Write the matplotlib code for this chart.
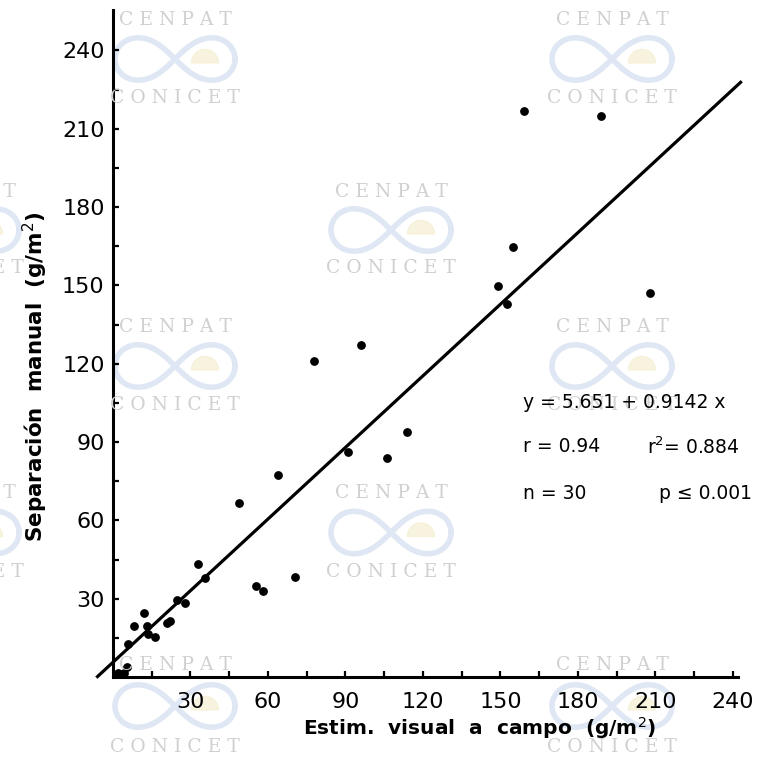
import numpy as np
import matplotlib
matplotlib.use("Agg")
import matplotlib.pyplot as plt
from matplotlib.lines import Line2D
from matplotlib.patches import Wedge

# ---------------- data ----------------
visual_est = [2.1, 4.4, 5.3, 5.9, 8.3, 12.1, 13.1, 13.6, 16.3, 20.8, 22.1, 24.7, 27.9,
              33.0, 35.7, 48.8, 55.4, 58.0, 63.8, 70.3, 77.9, 91.0, 96.1, 106.2, 114.0,
              149.2, 152.7, 154.7, 159.3, 189.0, 208.0]
manual_sep = [1.4, 1.4, 4.0, 12.6, 19.5, 24.6, 19.5, 16.5, 15.2, 20.5, 21.6, 29.5, 28.5,
              43.3, 38.0, 66.7, 35.0, 33.0, 77.4, 38.2, 121.0, 86.0, 127.0, 84.0, 94.0,
              149.6, 142.8, 164.6, 217.0, 215.0, 147.0]
intercept = 5.651
slope = 0.9142
line_x = [-6, 243]
tick_vals = [30, 60, 90, 120, 150, 180, 210, 240]
minor_vals = [15, 45, 75, 105, 135, 165, 195, 225]

W = 757.0
def fx(px):
    return px / W
def fy(py):
    return 1 - py / W

fig = plt.figure(figsize=(7.57, 7.57), dpi=100)
fig.patch.set_facecolor("white")

# ---------------- watermark ----------------
wm_color = "#d0d0d0"
blue = "#d3e0ef"
def watermark(cx, y_top, y_bot):
    fig.text(fx(cx), fy(y_top), "C E N P A T", ha="center", va="center",
             fontsize=13.5, color=wm_color, family="DejaVu Serif", zorder=0)
    fig.text(fx(cx), fy(y_bot), "C O N I C E T", ha="center", va="center",
             fontsize=13.5, color=wm_color, family="DejaVu Serif", zorder=0)
    ymid = (y_top + y_bot) / 2
    t = np.linspace(0, 2 * np.pi, 200)
    a = 60
    lx = a * np.cos(t) / (1 + np.sin(t) ** 2)
    ly = a * np.sin(t) * np.cos(t) / (1 + np.sin(t) ** 2) * 1.0
    fig.add_artist(Line2D(fx(cx + lx), fy(ymid + ly), color=blue, lw=4,
                          transform=fig.transFigure, zorder=0, alpha=0.75))
    w = Wedge((fx(cx + 30), fy(ymid + 4)), 0.018, 0, 180, color="#f5efd2",
              transform=fig.transFigure, zorder=0, alpha=0.7)
    fig.add_artist(w)

for cx in (175, 612):
    watermark(cx, 20, 98)
    watermark(cx, 327, 405)
    watermark(cx, 665, 747)
for cx in (-41, 391):
    watermark(cx, 192, 268)
    watermark(cx, 493, 572)

# ---------------- axes ----------------
ax = fig.add_axes([fx(113), fy(677), fx(738) - fx(113), fy(10) - fy(677)])
ax.patch.set_alpha(0)
ax.set_xlim(0, 242)
ax.set_ylim(0, 255.5)
for s in ("top", "right"):
    ax.spines[s].set_visible(False)
for s in ("left", "bottom"):
    ax.spines[s].set_linewidth(2.2)
    ax.spines[s].set_color("black")

ax.set_xticks(tick_vals)
ax.set_yticks(tick_vals)
ax.set_xticks(minor_vals, minor=True)
ax.set_yticks(minor_vals, minor=True)
ax.set_xticklabels([str(v) for v in tick_vals])
ax.set_yticklabels([str(v) for v in tick_vals])
ax.tick_params(which="both", direction="in", length=4, width=1.6, color="black")
ax.tick_params(axis="x", which="major", labelsize=16, pad=11)
ax.tick_params(axis="y", which="major", labelsize=16, pad=6)

xs = np.array(line_x, dtype=float)
ax.plot(xs, intercept + slope * xs, color="black", lw=2.3, clip_on=False, zorder=3)
ax.scatter(visual_est, manual_sep, s=28, color="black", zorder=4, clip_on=False)

ax.set_xlabel("Estim.  visual  a  campo  (g/m$^2$)", fontsize=14.5,
              fontweight="bold")
ax.xaxis.set_label_coords((480 - 113) / (738 - 113), -(728 - 677) / (677 - 10))
ax.xaxis.label.set_va("center")
ax.set_ylabel("Separación  manual  (g/m$^2$)", fontsize=15.5, fontweight="bold")
ax.yaxis.set_label_coords(-(113 - 35) / (738 - 113), (677 - 377) / (677 - 10))
ax.yaxis.label.set_va("center")

# ---------------- annotations ----------------
fs = 13.5
fig.text(fx(523), fy(403), "y = 5.651 + 0.9142 x", ha="left", va="center", fontsize=fs)
fig.text(fx(523), fy(447), "r = 0.94", ha="left", va="center", fontsize=fs)
fig.text(fx(740), fy(447), "r$^2$= 0.884", ha="right", va="center", fontsize=fs)
fig.text(fx(523), fy(494), "n = 30", ha="left", va="center", fontsize=fs)
fig.text(fx(752), fy(494), "p ≤ 0.001", ha="right", va="center", fontsize=fs)

fig.savefig("out.png", dpi=100, facecolor="white")
